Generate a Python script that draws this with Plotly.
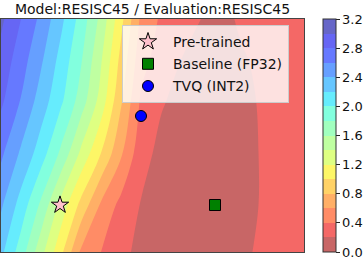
import plotly.graph_objects as go

# ---- data ----
x_nodes = [0, 20, 40, 60, 80, 100, 120, 140, 160, 180, 200, 220, 240, 260, 280, 300, 320]
y_nodes = [0, 47, 99, 152, 192, 233]
z_grid = [
    [2.25, 1.90, 1.47, 1.05, 0.56, 0.40, 0.24, 0.16, 0.13, 0.11, 0.10, 0.11, 0.16, 0.23, 0.27, 0.29, 0.30],
    [2.43, 2.12, 1.76, 1.33, 0.94, 0.57, 0.34, 0.19, 0.13, 0.11, 0.10, 0.10, 0.13, 0.21, 0.26, 0.29, 0.30],
    [2.64, 2.37, 2.10, 1.76, 1.36, 1.00, 0.63, 0.27, 0.15, 0.12, 0.10, 0.10, 0.13, 0.21, 0.26, 0.29, 0.30],
    [2.84, 2.59, 2.31, 2.04, 1.71, 1.32, 0.83, 0.37, 0.22, 0.15, 0.11, 0.10, 0.14, 0.22, 0.27, 0.30, 0.31],
    [2.93, 2.69, 2.43, 2.13, 1.82, 1.42, 0.94, 0.47, 0.31, 0.20, 0.12, 0.10, 0.17, 0.25, 0.28, 0.30, 0.31],
    [3.04, 2.80, 2.55, 2.25, 1.92, 1.54, 1.06, 0.56, 0.37, 0.29, 0.20, 0.12, 0.24, 0.28, 0.30, 0.31, 0.32],
]
point_names = ["Pre-trained", "Baseline (FP32)", "TVQ (INT2)"]
point_x = [59, 214, 140]
point_y = [47, 47, 136]
title_text = "Model:RESISC45 / Evaluation:RESISC45"
tick_vals = [0.0, 0.4, 0.8, 1.2, 1.6, 2.0, 2.4, 2.8, 3.2]
levels_start, levels_end, levels_step = 0.0, 3.2, 0.2

# ---- style: jet_r colormap with alpha 0.6 over white ----
def interp(segs, v):
    for (x0, y0), (x1, y1) in zip(segs[:-1], segs[1:]):
        if x0 <= v <= x1:
            return y0 + (y1 - y0) * (v - x0) / (x1 - x0) if x1 > x0 else y1
    return segs[-1][1]

RED = [(0, 0), (0.35, 0), (0.66, 1), (0.89, 1), (1, 0.5)]
GRN = [(0, 0), (0.125, 0), (0.375, 1), (0.64, 1), (0.91, 0), (1, 0)]
BLU = [(0, 0.5), (0.11, 1), (0.34, 1), (0.65, 0), (1, 0)]

def jet_alpha(v, a=0.6):
    c = [interp(RED, v), interp(GRN, v), interp(BLU, v)]
    c = [round(255 * (a * ch + (1 - a))) for ch in c]
    return "rgb(%d,%d,%d)" % tuple(c)

nb = 16
colorscale = []
for k in range(nb):
    mid = (k + 0.5) / nb
    col = jet_alpha(1 - mid)
    colorscale.append([k / nb, col])
    colorscale.append([(k + 1) / nb, col])

FONT = "DejaVu Sans"
L, R, T, B = 1, 59, 19, 9
PW = 363 - L - R

fig = go.Figure()
fig.add_trace(go.Contour(
    x=x_nodes, y=y_nodes, z=z_grid,
    colorscale=colorscale, zmin=levels_start, zmax=levels_end,
    contours=dict(start=levels_start, end=levels_end, size=levels_step, coloring="fill"),
    line=dict(width=0),
    showlegend=False, hoverinfo="skip",
    colorbar=dict(
        x=(323 - L) / PW, xanchor="left", xpad=0, ypad=0,
        y=0.5, yanchor="middle", len=1.0, lenmode="fraction",
        thickness=13, outlinewidth=1, outlinecolor="#333",
        tickmode="array", tickvals=tick_vals,
        ticktext=["%.1f" % t for t in tick_vals],
        ticks="outside", ticklen=3.5, tickwidth=1, tickcolor="#222",
        tickfont=dict(family=FONT, size=13, color="#111"),
    ),
))

symbols = ["star", "square", "circle"]
colors = ["pink", "green", "blue"]
sizes = [13, 11, 11]
for i in range(3):
    fig.add_trace(go.Scatter(
        x=[point_x[i]], y=[point_y[i]], mode="markers", name=point_names[i],
        marker=dict(symbol=symbols[i], color=colors[i], size=sizes[i],
                    line=dict(color="black", width=1)),
        hoverinfo="skip", legendgroup=str(i),
    ))

fig.update_layout(
    width=363, height=261,
    margin=dict(l=L, r=R, t=T, b=B, autoexpand=False),
    plot_bgcolor="white", paper_bgcolor="white",
    title=dict(text=title_text, x=0.5, xref="paper", xanchor="center",
               y=1 - 9 / 261, yref="container", yanchor="middle",
               font=dict(family=FONT, size=14, color="#111")),
    xaxis=dict(range=[0, 303], showticklabels=False, ticks="", showgrid=False,
               zeroline=False, showline=True, linecolor="#444", linewidth=1, mirror=True),
    yaxis=dict(range=[0, 233], showticklabels=False, ticks="", showgrid=False,
               zeroline=False, showline=True, linecolor="#444", linewidth=1, mirror=True),
    legend=dict(x=(122 - L) / PW, y=1 - (25 - T) / 233, xanchor="left", yanchor="top",
                bgcolor="rgba(255,255,255,0.8)", bordercolor="#cccccc", borderwidth=1,
                font=dict(family=FONT, size=14, color="#111"), tracegroupgap=1,
                itemwidth=40),
)

fig.write_html("out.html", config={"displayModeBar": False},
               post_script="document.body.style.margin='0';document.body.style.overflow='hidden';")
